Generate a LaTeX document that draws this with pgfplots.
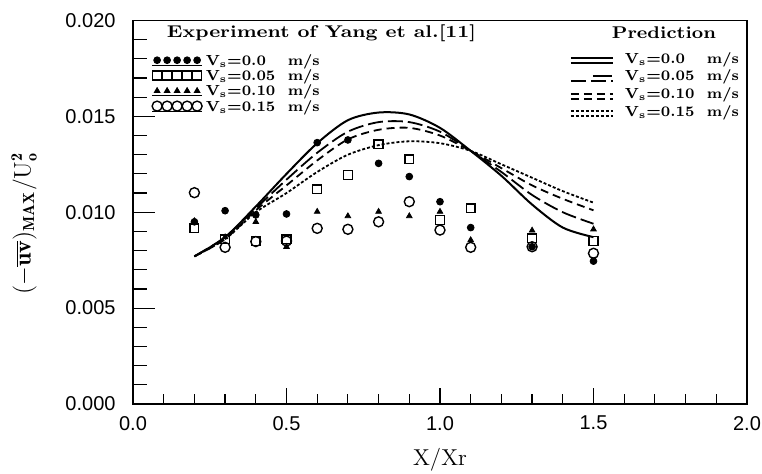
\documentclass[border=0pt]{standalone}
\usepackage{fontspec}
\usepackage{graphicx}
\usepackage{pgfplots}
\pgfplotsset{compat=1.18}
\newfontfamily\ticksf{Liberation Sans}
\newcommand\legfont{\bfseries\fontsize{7.3}{7.3}\selectfont}
\newcommand\ent[1]{\legfont\makebox[41pt][l]{V\textsubscript{s}=#1}\resizebox{16pt}{\height}{m/s}}
\pgfplotsset{shortleg/.style={legend image code/.code={\draw[##1,solid,overlay] (11pt,2.5pt) -- (20.5pt,2.5pt); \path (0pt,0pt) -- (21pt,0pt);}}}
\begin{document}
\begin{tikzpicture}
\begin{axis}[
  name=ax, scale only axis, width=307pt, height=191.75pt,
  xmin=0, xmax=2, ymin=0, ymax=0.02,
  axis line style={line width=0.75pt},
  tick pos=left, tick align=inside,
  xtick={0,0.5,1,1.5,2}, minor x tick num=4,
  ytick={0,0.005,0.01,0.015,0.02}, minor y tick num=4,
  scaled y ticks=false, scaled x ticks=false,
  major tick length=8pt, minor tick length=5pt,
  ytick style={/pgfplots/major tick length=11pt,/pgfplots/minor tick length=7pt},
  every tick/.style={line width=0.6pt, black},
  xticklabel style={/pgf/number format/fixed, /pgf/number format/fixed zerofill, /pgf/number format/precision=1, /tikz/yshift=-2.5pt},
  yticklabel style={/pgf/number format/fixed, /pgf/number format/fixed zerofill, /pgf/number format/precision=3, /tikz/xshift=-5.2pt},
  /pgf/number format/assume math mode=true,
  ticklabel style={font=\ticksf\fontsize{10}{12}\selectfont},
  legend style={at={(0.0305,0.886)}, anchor=north west, draw=none, fill=none,
    inner sep=0pt, outer sep=0pt, row sep=6.65pt, column sep=1.65pt,
    nodes={inner sep=0pt, text height=0pt, text depth=0pt}},
  legend cell align=left,
  legend image code/.code={%
    \draw[#1, only marks, overlay] plot coordinates {(2.5pt,2.5pt) (7.5pt,2.5pt) (12.5pt,2.5pt) (17.5pt,2.5pt) (22.5pt,2.5pt)};
    \path (0pt,0pt) -- (25pt,0pt);},
]
\addplot[only marks, black, mark=*, mark size=1.7pt] coordinates {
(0.2,0.0095) (0.3,0.01008) (0.4,0.00986) (0.5,0.00991) (0.6,0.01363) (0.7,0.01377)
(0.8,0.01255) (0.9,0.01186) (1.0,0.01055) (1.1,0.0092) (1.3,0.0082) (1.5,0.00745)};
\addlegendentry{\ent{0.0}}
\addplot[only marks, black, mark=square, mark size=2.2pt, mark options={line width=0.7pt}] coordinates {
(0.2,0.00916) (0.3,0.00859) (0.4,0.0085) (0.5,0.00859) (0.6,0.0112) (0.7,0.01194)
(0.8,0.01354) (0.9,0.01276) (1.0,0.0096) (1.1,0.01021) (1.3,0.00864) (1.5,0.0085)};
\addlegendentry{\ent{0.05}}
\addplot[only marks, black, mark=triangle*, mark size=1.6pt] coordinates {
(0.2,0.00954) (0.3,0.0087) (0.4,0.0095) (0.5,0.0082) (0.6,0.01003) (0.7,0.0098)
(0.8,0.01003) (0.9,0.0098) (1.0,0.01003) (1.1,0.00855) (1.3,0.00905) (1.5,0.00911)};
\addlegendentry{\ent{0.10}}
\addplot[only marks, black, mark=o, mark size=2.5pt, mark options={line width=0.7pt}] coordinates {
(0.2,0.01102) (0.3,0.00817) (0.4,0.00847) (0.5,0.0085) (0.6,0.00916) (0.7,0.00911)
(0.8,0.0095) (0.9,0.01055) (1.0,0.00907) (1.1,0.00817) (1.3,0.0082) (1.5,0.00786)};
\addlegendentry{\ent{0.15}}
\node[inner sep=0pt] at (rel axis cs:0.3070,0.9674) {\resizebox{154.5pt}{\height}{\bfseries\fontsize{8.5}{9}\selectfont Experiment of Yang et al.[11]}};
\node[inner sep=0pt] at (rel axis cs:0.8648,0.9674) {\resizebox{52pt}{\height}{\bfseries\fontsize{8.5}{9}\selectfont Prediction}};
\end{axis}
\begin{axis}[
  scale only axis, width=307pt, height=191.75pt,
  xmin=0, xmax=2, ymin=0, ymax=0.02, hide axis,
  legend style={at={(0.7117,0.891)}, anchor=north west, draw=none, fill=none,
    inner sep=0pt, outer sep=0pt, row sep=7.85pt, column sep=5.5pt,
    nodes={inner sep=0pt, text height=0pt, text depth=0pt}},
  legend cell align=left,
  legend image code/.code={\draw[#1, overlay] (0pt,2.5pt) -- (21pt,2.5pt); \path (0pt,0pt) -- (21pt,0pt);},
]
\addplot[black, line width=1pt, smooth] coordinates {
(0.2,0.0077) (0.3,0.0087) (0.4,0.0103) (0.5,0.0120) (0.6,0.0136) (0.7,0.0148)
(0.8,0.0152) (0.9,0.0151) (1.0,0.0144) (1.1,0.0132) (1.2,0.0119) (1.3,0.0104)
(1.4,0.0092) (1.5,0.0087)};
\addlegendentry{\ent{0.0}}
\addplot[black, line width=0.9pt, smooth, dash pattern=on 7.5pt off 2.5pt, shortleg] coordinates {
(0.2,0.0077) (0.3,0.0087) (0.4,0.0102) (0.5,0.0117) (0.6,0.0131) (0.7,0.0142)
(0.8,0.0147) (0.9,0.0147) (1.0,0.0142) (1.1,0.0132) (1.2,0.0121) (1.3,0.0109)
(1.4,0.0100) (1.5,0.0094)};
\addlegendentry{\ent{0.05}}
\addplot[black, line width=0.9pt, smooth, dash pattern=on 4pt off 2.5pt] coordinates {
(0.2,0.0077) (0.3,0.0086) (0.4,0.0101) (0.5,0.0114) (0.6,0.0127) (0.7,0.0138)
(0.8,0.0143) (0.9,0.0144) (1.0,0.0140) (1.1,0.0132) (1.2,0.0123) (1.3,0.0114)
(1.4,0.0107) (1.5,0.0101)};
\addlegendentry{\ent{0.10}}
\addplot[black, line width=0.9pt, smooth, dash pattern=on 1.5pt off 1pt] coordinates {
(0.2,0.0077) (0.3,0.0086) (0.4,0.0100) (0.5,0.0110) (0.6,0.0121) (0.7,0.0130)
(0.8,0.0135) (0.9,0.0137) (1.0,0.0136) (1.1,0.0132) (1.2,0.0125) (1.3,0.0118)
(1.4,0.0111) (1.5,0.0105)};
\addlegendentry{\ent{0.15}}
\end{axis}
\node[rotate=90, font=\fontsize{12}{14}\selectfont, inner sep=0pt] at (-54.5pt,90.25pt)
  {$(-\overline{\mathbf{uv}})_{\mathbf{MAX}}/\mathrm{U}_{\mathbf{o}}^{\mathbf{2}}$};
\node[font=\fontsize{11.5}{13}\selectfont, inner sep=0pt] at (153.5pt,-28pt) {X/Xr};
\pgfresetboundingbox
\useasboundingbox (-66.5pt,-35pt) rectangle (314.5pt,202pt);
\end{tikzpicture}
\end{document}
